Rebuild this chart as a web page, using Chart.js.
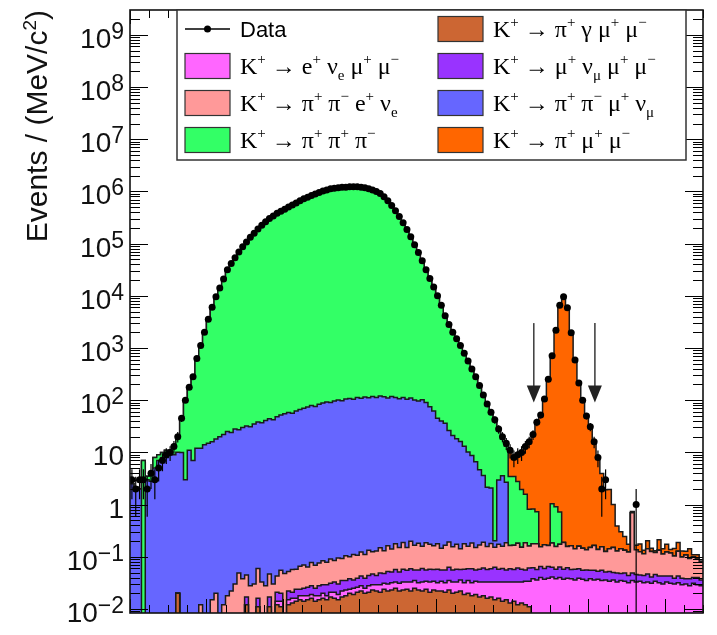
<!DOCTYPE html>
<html>
<head>
<meta charset="utf-8">
<script src="https://cdn.jsdelivr.net/npm/chart.js@4.4.0/dist/chart.umd.min.js"></script>
<style>
  html, body { margin: 0; padding: 0; background: #fff; }
</style>
</head>
<body>
<canvas id="massChart" width="717" height="635"></canvas>
<script>
// mass bins: 1 MeV/c2 wide, from 380 to 530 MeV/c2
const massMin = 380;
const massMax = 530;
const binWidth = 1;
const binLowEdges = Array.from({ length: 150 }, (_, i) => massMin + i * binWidth);

// y axis range (events per MeV/c2) and decade labels
const yMin = 0.00838;
const yMax = 2.99e9;
const yTickDecades = [-2, -1, 0, 1, 2, 3, 4, 5, 6, 7, 8, 9];

// signal region arrows (mass) and their vertical extent
const signalEdges = [485.7, 501.7];
const arrowFrom = 3000;
const arrowTo = 90;

const dataCounts = [
  3, 2, 3, 3, 2, 4, 3, 5, 7, 9,
  10, 13, 20, 45, 100, 178, 282, 631, 1120, 2000,
  3550, 6030, 9550, 14100, 20900, 31600, 41700, 53700, 69200, 87100,
  107000, 132000, 158000, 191000, 224000, 263000, 302000, 339000, 380000, 417000,
  457000, 501000, 550000, 603000, 661000, 724000, 776000, 832000, 891000, 955000,
  1020000, 1070000, 1120000, 1150000, 1170000, 1200000, 1200000, 1230000, 1230000, 1230000,
  1200000, 1170000, 1120000, 1070000, 1000000, 912000, 794000, 661000, 537000, 427000,
  331000, 251000, 186000, 135000, 95500, 67600, 46800, 31600, 21400, 14800,
  10000, 6610, 4170, 2820, 2000, 1510, 1120, 794, 562, 398,
  282, 191, 126, 85, 59, 42, 28, 20, 15, 11,
  8, 9, 10, 13, 16, 22, 38, 52, 105, 251,
  708, 2190, 6610, 9550, 5890, 1950, 589, 214, 100, 50,
  31, 16, 8, 2, 3, 0, 0, 0, 0, 0,
  0, 0, 1, 0, 0, 0, 0, 0, 0, 0,
  0, 0, 0, 0, 0, 0, 0, 0, 0, 0
];

// K+ -> pi+ gamma mu+ mu-
const kPiGammaMuMu = [
  0, 0, 0, 0, 0, 0, 0, 0, 0, 0,
  0, 0, 0.02, 0, 0, 0, 0, 0, 0, 0,
  0, 0, 0, 0, 0, 0, 0, 0, 0, 0,
  0.012, 0, 0, 0.011, 0, 0, 0.011, 0, 0.012, 0.011,
  0, 0.012, 0.013, 0.014, 0.015, 0.014, 0.015, 0.016, 0.014, 0.015,
  0.016, 0.015, 0.017, 0.016, 0.015, 0.017, 0.018, 0.02, 0.019, 0.021,
  0.022, 0.02, 0.021, 0.023, 0.022, 0.021, 0.024, 0.022, 0.023, 0.025,
  0.022, 0.023, 0.024, 0.022, 0.025, 0.023, 0.022, 0.024, 0.021, 0.023,
  0.022, 0.022, 0.021, 0.023, 0.02, 0.021, 0.022, 0.019, 0.02, 0.018,
  0.019, 0.017, 0.018, 0.016, 0.017, 0.015, 0.016, 0.014, 0.015, 0.013,
  0.014, 0.012, 0.013, 0.012, 0.011, 0, 0, 0, 0, 0,
  0, 0, 0, 0, 0, 0, 0, 0, 0, 0,
  0, 0, 0, 0, 0, 0, 0, 0, 0, 0,
  0, 0, 0, 0, 0, 0, 0, 0, 0, 0,
  0, 0, 0, 0, 0, 0, 0, 0, 0, 0
];

// K+ -> e+ nu_e mu+ mu-
const kENuMuMu = [
  0, 0, 0, 0, 0, 0, 0, 0, 0, 0,
  0, 0, 0, 0, 0, 0, 0, 0, 0, 0,
  0, 0, 0, 0, 0, 0, 0, 0, 0, 0,
  0, 0, 0, 0, 0, 0, 0, 0, 0.002, 0.003,
  0.002, 0.003, 0.003, 0.002, 0.003, 0.004, 0.003, 0.003, 0.004, 0.003,
  0.004, 0.003, 0.004, 0.005, 0.004, 0.005, 0.005, 0.004, 0.006, 0.005,
  0.006, 0.005, 0.007, 0.006, 0.007, 0.008, 0.007, 0.008, 0.009, 0.008,
  0.009, 0.01, 0.009, 0.011, 0.01, 0.009, 0.011, 0.01, 0.012, 0.011,
  0.01, 0.012, 0.011, 0.012, 0.013, 0.012, 0.014, 0.013, 0.015, 0.014,
  0.015, 0.016, 0.015, 0.017, 0.016, 0.018, 0.017, 0.019, 0.018, 0.02,
  0.019, 0.021, 0.02, 0.022, 0.023, 0.038, 0.036, 0.04, 0.037, 0.039,
  0.041, 0.038, 0.04, 0.037, 0.039, 0.038, 0.036, 0.039, 0.037, 0.035,
  0.038, 0.036, 0.037, 0.035, 0.036, 0.034, 0.036, 0.033, 0.035, 0.034,
  0.032, 0.035, 0.033, 0.034, 0.032, 0.033, 0.031, 0.034, 0.032, 0.03,
  0.033, 0.031, 0.03, 0.032, 0.029, 0.03, 0.028, 0.031, 0.029, 0.028
];

// K+ -> mu+ nu_mu mu+ mu-
const kMuNuMuMu = [
  0, 0, 0, 0, 0, 0, 0, 0, 0, 0,
  0, 0, 0, 0, 0, 0, 0, 0, 0, 0,
  0, 0, 0, 0, 0, 0, 0, 0, 0.004, 0,
  0.005, 0.006, 0, 0.005, 0.007, 0.004, 0.006, 0.005, 0.007, 0.006,
  0.006, 0.007, 0.005, 0.008, 0.006, 0.007, 0.008, 0.009, 0.007, 0.01,
  0.009, 0.011, 0.01, 0.012, 0.011, 0.013, 0.012, 0.014, 0.011, 0.013,
  0.015, 0.014, 0.016, 0.018, 0.015, 0.02, 0.017, 0.022, 0.019, 0.024,
  0.02, 0.025, 0.022, 0.026, 0.021, 0.024, 0.027, 0.022, 0.025, 0.023,
  0.026, 0.022, 0.024, 0.028, 0.023, 0.025, 0.021, 0.026, 0.024, 0.027,
  0.022, 0.025, 0.028, 0.024, 0.026, 0.03, 0.025, 0.027, 0.023, 0.026,
  0.024, 0.028, 0.025, 0.022, 0.027, 0.024, 0.021, 0.025, 0.023, 0.026,
  0.022, 0.02, 0.024, 0.021, 0.023, 0.019, 0.022, 0.02, 0.018, 0.021,
  0.017, 0.019, 0.016, 0.02, 0.015, 0.018, 0.014, 0.016, 0.013, 0.015,
  0.012, 0.014, 0.013, 0.011, 0.012, 0.014, 0.01, 0.012, 0.011, 0.013,
  0.01, 0.012, 0.009, 0.011, 0.01, 0.008, 0.01, 0.009, 0.011, 0.008
];

// K+ -> pi+ pi- e+ nu_e
const kPiPiENu = [
  0, 0, 0, 0, 0, 0, 0, 0, 0, 0,
  0, 0, 0, 0, 0, 0, 0, 0, 0.012, 0,
  0, 0.015, 0.02, 0, 0.012, 0.018, 0.022, 0.03, 0.045, 0.038,
  0.028, 0.022, 0.03, 0.044, 0.026, 0.024, 0.03, 0.025, 0.022, 0.035,
  0.04, 0.03, 0.036, 0.034, 0.042, 0.045, 0.038, 0.05, 0.044, 0.048,
  0.055, 0.05, 0.06, 0.052, 0.065, 0.058, 0.07, 0.062, 0.075, 0.068,
  0.08, 0.072, 0.09, 0.078, 0.085, 0.1, 0.082, 0.11, 0.09, 0.12,
  0.1, 0.13, 0.095, 0.14, 0.11, 0.125, 0.1, 0.13, 0.115, 0.105,
  0.12, 0.09, 0.11, 0.13, 0.1, 0.115, 0.085, 0.12, 0.1, 0.125,
  0.095, 0.11, 0.13, 0.1, 0.12, 0.09, 0.115, 0.1, 0.13, 0.105,
  0.11, 0.12, 0.095, 0.13, 0.1, 0.115, 0.12, 0.09, 0.11, 0.1,
  0.12, 0.1, 0.11, 0.13, 0.095, 0.105, 0.085, 0.1, 0.09, 0.08,
  0.095, 0.11, 0.085, 0.1, 0.075, 0.09, 0.1, 0.08, 0.095, 0.085,
  0.08, 0.65, 0.09, 0.08, 0.07, 0.095, 0.085, 0.075, 0.09, 0.07,
  0.08, 0.075, 0.065, 0.085, 0.06, 0.07, 0.055, 0.06, 0.05, 0.045
];

// K+ -> pi+ pi- mu+ nu_mu
const kPiPiMuNu = [
  2.5, 2.2, 2.0, 0, 3, 2.8, 5, 7, 8, 8,
  9, 9, 10, 10, 3, 11, 7, 12, 12, 14,
  15, 16, 18, 20, 22, 25, 24, 28, 27, 30,
  32, 31, 35, 38, 37, 41, 44, 42, 48, 52,
  55, 58, 56, 62, 66, 70, 74, 79, 76, 84,
  88, 92, 90, 97, 101, 98, 105, 108, 104, 112,
  109, 115, 111, 118, 113, 120, 116, 110, 118, 112,
  107, 113, 104, 110, 101, 96, 102, 90, 75, 62,
  45, 40, 36, 26, 21, 18, 16, 13, 10, 8.5,
  6.5, 4.5, 3.4, 2, 1.9, 0.05, 2.8, 3.4, 2.5, 0,
  0, 0, 0, 0, 0, 0, 0, 0, 0, 0,
  0, 0, 0, 0, 0, 0, 0, 0, 0, 0,
  0, 0, 0, 0, 0, 0, 0, 0, 0, 0,
  0, 0, 0, 0, 0, 0, 0, 0, 0, 0,
  0, 0, 0, 0, 0, 0, 0, 0, 0, 0
];

// K+ -> pi+ pi+ pi-
const kThreePi = [
  0, 0, 0, 7, 0.5, 1, 3, 2, 2, 3,
  2, 4, 10, 35, 97, 167, 275, 619, 1108, 1986,
  3535, 6014, 9532, 14080, 20880, 31580, 41680, 53670, 69170, 87070,
  107000, 132000, 158000, 191000, 224000, 263000, 302000, 339000, 380000, 417000,
  457000, 501000, 550000, 603000, 661000, 724000, 776000, 832000, 891000, 955000,
  1020000, 1070000, 1120000, 1150000, 1170000, 1200000, 1200000, 1230000, 1230000, 1230000,
  1200000, 1170000, 1120000, 1070000, 1000000, 912000, 794000, 661000, 537000, 427000,
  331000, 251000, 186000, 135000, 95400, 67500, 46700, 31510, 21325, 14738,
  9955, 6570, 4134, 2794, 1979, 1492, 1104, 781, 552, 389,
  275, 186, 122, 83, 57, 42, 25, 14.6, 10.5, 3.3,
  3.3, 2.6, 1.8, 1.4, 0.65, 0.65, 0.55, 0, 0, 0,
  0.85, 0.75, 0.55, 0, 0, 0, 0, 0, 0, 0,
  0, 0, 0, 0, 0, 0, 0, 0, 0, 0,
  0, 0, 0, 0, 0, 0, 0, 0, 0, 0,
  0, 0, 0, 0, 0, 0, 0, 0, 0, 0
];

// K+ -> pi+ mu+ mu-
const kPiMuMu = [
  0, 0, 0, 0, 0, 0, 0, 0, 0, 0,
  0, 0, 0, 0, 0, 0, 0, 0, 0, 0,
  0, 0, 0, 0, 0, 0, 0, 0, 0, 0,
  0, 0, 0, 0, 0, 0, 0, 0, 0, 0,
  0, 0, 0, 0, 0, 0, 0, 0, 0, 0,
  0, 0, 0, 0, 0, 0, 0, 0, 0, 0,
  0, 0, 0, 0, 0, 0, 0, 0, 0, 0,
  0, 0, 0, 0, 0, 0, 0, 0, 0, 0,
  0, 0, 0, 0, 0, 0, 0, 0, 0, 0,
  0, 0, 0, 0, 0, 0, 0, 2, 2, 7.5,
  4.5, 6, 8, 11, 15, 21, 37, 52, 105, 250,
  707, 2190, 6610, 9550, 5890, 1950, 589, 214, 100, 50,
  31, 16, 8, 3.8, 1.8, 1.8, 0.85, 0.26, 0.16, 0.11,
  0.05, 0.04, 0.03, 0.05, 0.02, 0.06, 0.02, 0.01, 0.08, 0.03,
  0.05, 0.02, 0.04, 0.06, 0.03, 0.02, 0.05, 0.01, 0.02, 0
];

// stack order, bottom to top
const stackLayers = [
  { label: 'K^+ → π^+ γ μ^+ μ^−', values: kPiGammaMuMu, color: '#cc6633' },
  { label: 'K^+ → e^+ ν_e μ^+ μ^−', values: kENuMuMu, color: '#ff66ff' },
  { label: 'K^+ → μ^+ ν_μ μ^+ μ^−', values: kMuNuMuMu, color: '#9933ff' },
  { label: 'K^+ → π^+ π^− e^+ ν_e', values: kPiPiENu, color: '#ff9999' },
  { label: 'K^+ → π^+ π^− μ^+ ν_μ', values: kPiPiMuNu, color: '#6666ff' },
  { label: 'K^+ → π^+ π^+ π^−', values: kThreePi, color: '#33ff66' },
  { label: 'K^+ → π^+ μ^+ μ^−', values: kPiMuMu, color: '#ff6600' }
];

const SANS = '"Liberation Sans", Arial, Helvetica, sans-serif';
const SERIF = '"Liberation Serif", "Times New Roman", serif';

// --- small helper for labels with ^sup and _sub (single char or {group})
function parseRich(str) {
    const parts = [];
    let i = 0;
    while (i < str.length) {
        const ch = str[i];
        if ((ch === '^' || ch === '_') && i + 1 < str.length) {
            const mode = ch === '^' ? 'sup' : 'sub';
            if (str[i + 1] === '{') {
                const end = str.indexOf('}', i + 2);
                parts.push({ t: str.slice(i + 2, end), mode });
                i = end + 1;
            } else {
                parts.push({ t: str[i + 1], mode });
                i += 2;
            }
        } else {
            const last = parts[parts.length - 1];
            if (last && last.mode === 'base') last.t += ch;
            else parts.push({ t: ch, mode: 'base' });
            i++;
        }
    }
    return parts;
}

function drawRich(ctx, str, x, y, o) {
    const parts = parseRich(str);
    const fontOf = p => (p.mode === 'base' ? o.size : o.smallSize) + 'px ' + o.family;
    const widths = parts.map(p => { ctx.font = fontOf(p); return ctx.measureText(p.t).width; });
    const total = widths.reduce((a, b) => a + b, 0);
    let cx = o.align === 'right' ? x - total : x;
    ctx.textAlign = 'left';
    ctx.textBaseline = 'alphabetic';
    parts.forEach((p, k) => {
        ctx.font = fontOf(p);
        let dy = 0;
        if (p.mode === 'sup') dy = -o.rise;
        if (p.mode === 'sub') dy = o.drop;
        ctx.fillText(p.t, cx, y + dy);
        cx += widths[k];
    });
    return total;
}

function stroke(ctx, x1, y1, x2, y2) {
    ctx.beginPath();
    ctx.moveTo(x1, y1);
    ctx.lineTo(x2, y2);
    ctx.stroke();
}

// ROOT-like frame, inward ticks, error bars, arrows, legend and labels
const rootStyle = {
    id: 'rootStyle',
    beforeDatasetDraw(chart, args) {
        if (args.index !== 0) return;
        const { ctx, chartArea: a, scales: { x, y } } = chart;
        ctx.save();
        ctx.beginPath();
        ctx.rect(a.left, a.top, a.right - a.left, a.bottom - a.top);
        ctx.clip();
        ctx.strokeStyle = '#000';
        ctx.lineWidth = 1.2;
        dataCounts.forEach((n, i) => {
            if (n <= 0) return;
            const lo = binLowEdges[i];
            const xc = x.getPixelForValue(lo + binWidth / 2);
            const err = Math.sqrt(n);
            const yc = y.getPixelForValue(n);
            const yTop = y.getPixelForValue(n + err);
            const yBot = n - err > 0 ? y.getPixelForValue(n - err) : a.bottom;
            stroke(ctx, xc, yTop, xc, yBot);
            stroke(ctx, x.getPixelForValue(lo), yc, x.getPixelForValue(lo + binWidth), yc);
        });
        ctx.restore();
    },
    afterDatasetsDraw(chart) {
        const { ctx, chartArea: a, scales: { x, y } } = chart;
        ctx.save();
        ctx.strokeStyle = '#000';
        ctx.lineWidth = 1;
        // y ticks, both sides
        for (let k = -3; k <= 9; k++) {
            for (let j = 1; j <= 9; j++) {
                const v = j * Math.pow(10, k);
                if (v < y.min || v > y.max) continue;
                const py = Math.round(y.getPixelForValue(v)) + 0.5;
                const len = j === 1 ? 18 : 10;
                stroke(ctx, a.left, py, a.left + len, py);
                stroke(ctx, a.right, py, a.right - len, py);
            }
        }
        // x ticks, bottom and top
        for (let m = massMin; m <= massMax; m += 5) {
            const px = Math.round(x.getPixelForValue(m)) + 0.5;
            const len = m % 20 === 0 ? 14 : 8;
            stroke(ctx, px, a.bottom, px, a.bottom - len);
            stroke(ctx, px, a.top, px, a.top + len);
        }
        // frame
        ctx.lineWidth = 1.6;
        ctx.strokeStyle = '#111';
        ctx.strokeRect(a.left, a.top, a.right - a.left, a.bottom - a.top);

        // signal region arrows
        signalEdges.forEach(m => {
            const px = x.getPixelForValue(m);
            const y1 = y.getPixelForValue(arrowFrom);
            const y2 = y.getPixelForValue(arrowTo);
            ctx.strokeStyle = '#444';
            ctx.lineWidth = 1.6;
            stroke(ctx, px, y1, px, y2 - 12);
            ctx.fillStyle = '#222';
            ctx.beginPath();
            ctx.moveTo(px - 7, y2 - 17);
            ctx.lineTo(px + 7, y2 - 17);
            ctx.lineTo(px, y2);
            ctx.closePath();
            ctx.fill();
        });

        // legend box, two columns
        const box = { left: a.left + 47, top: a.top, right: a.right - 17, bottom: a.top + 150 };
        ctx.fillStyle = '#fff';
        ctx.fillRect(box.left, box.top, box.right - box.left, box.bottom - box.top);
        ctx.strokeStyle = '#333';
        ctx.lineWidth = 1.5;
        ctx.strokeRect(box.left, box.top, box.right - box.left, box.bottom - box.top);
        chart.data.datasets.forEach((ds, idx) => {
            const col = idx % 2;
            const row = Math.floor(idx / 2);
            const sx = box.left + 8 + col * 253;
            const cy = box.top + 19 + row * 37;
            if (idx === 0) {
                ctx.strokeStyle = '#000';
                ctx.lineWidth = 1.5;
                stroke(ctx, sx, cy, sx + 45, cy);
                ctx.fillStyle = '#000';
                ctx.beginPath();
                ctx.arc(sx + 22.5, cy, 3.5, 0, Math.PI * 2);
                ctx.fill();
                drawRich(ctx, ds.label, sx + 55, cy + 8, { family: SANS, size: 22, smallSize: 14, rise: 9, drop: 5 });
            } else {
                ctx.fillStyle = ds.backgroundColor;
                ctx.fillRect(sx, cy - 12.5, 45, 25);
                ctx.strokeStyle = '#333';
                ctx.lineWidth = 1.2;
                ctx.strokeRect(sx, cy - 12.5, 45, 25);
                ctx.fillStyle = '#000';
                drawRich(ctx, ds.label, sx + 55, cy + 8, { family: SERIF, size: 24, smallSize: 15, rise: 10, drop: 6 });
            }
        });
        ctx.restore();
    },
    afterDraw(chart) {
        const { ctx, chartArea: a, scales: { y } } = chart;
        ctx.save();
        ctx.fillStyle = '#111';
        yTickDecades.forEach(k => {
            const py = y.getPixelForValue(Math.pow(10, k));
            let label;
            if (k === 0) label = '1';
            else if (k === 1) label = '10';
            else label = '10^{' + (k < 0 ? '−' + (-k) : k) + '}';
            drawRich(ctx, label, a.left - 6, py + 13, { family: SANS, size: 28, smallSize: 23, rise: 9, drop: 0, align: 'right' });
        });
        // y axis title, rotated, aligned to the top of the frame
        ctx.translate(47, a.top);
        ctx.rotate(-Math.PI / 2);
        drawRich(ctx, 'Events / (MeV/c^2)', 0, 0, { family: SANS, size: 30, smallSize: 19, rise: 11, drop: 0, align: 'right' });
        ctx.restore();
    }
};

// build cumulative (stacked) step datasets from the component arrays
const floorValue = 1e-3;
const running = new Array(binLowEdges.length).fill(0);
const layerDatasets = stackLayers.map(layer => {
    layer.values.forEach((v, i) => { running[i] += v; });
    const pts = binLowEdges.map((edge, i) => ({ x: edge, y: Math.max(running[i], floorValue) }));
    pts.push({ x: massMax, y: Math.max(running[running.length - 1], floorValue) });
    return {
        label: layer.label,
        data: pts,
        stepped: true,
        fill: 'start',
        backgroundColor: layer.color,
        borderColor: '#1a1a1a',
        borderWidth: 1.5,
        pointRadius: 0,
        tension: 0
    };
});

const dataDataset = {
    label: 'Data',
    data: dataCounts
        .map((n, i) => ({ x: binLowEdges[i] + binWidth / 2, y: n }))
        .filter(p => p.y > 0),
    showLine: false,
    fill: false,
    pointRadius: 3.5,
    pointBackgroundColor: '#000',
    pointBorderColor: '#000',
    pointBorderWidth: 0
};

// index 0 is drawn last (on top); orange (last) is drawn first
const datasets = [dataDataset].concat(layerDatasets);

new Chart(document.getElementById('massChart'), {
    type: 'line',
    data: { datasets },
    options: {
        responsive: false,
        animation: false,
        devicePixelRatio: 1,
        events: [],
        layout: { padding: { left: 130, right: 14, top: 10, bottom: 22 } },
        plugins: {
            legend: { display: false },
            tooltip: { enabled: false }
        },
        scales: {
            x: { type: 'linear', display: false, min: massMin, max: massMax },
            y: { type: 'logarithmic', display: false, min: yMin, max: yMax }
        }
    },
    plugins: [rootStyle]
});
</script>
</body>
</html>
